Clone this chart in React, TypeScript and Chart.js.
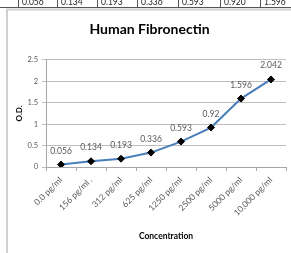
import React, { useEffect, useRef } from "react";
import { Chart, registerables } from "chart.js";

Chart.register(...registerables);

const categories = [
  "0.0 pg/ml",
  "156 pg/ml .",
  "312 pg/ml",
  "625 pg/ml",
  "1250 pg/ml",
  "2500 pg/ml",
  "5000 pg/ml",
  "10,000 pg/ml",
];
const odValues = [0.056, 0.134, 0.193, 0.336, 0.593, 0.92, 1.596, 2.042];
const valueLabels = ["0.056", "0.134", "0.193", "0.336", "0.593", "0.92", "1.596", "2.042"];
const tableValues = ["0.056", "0.134", "0.193", "0.336", "0.593", "0.920", "1.596"];
const yTicks = [0, 0.5, 1, 1.5, 2, 2.5];

const FONT = 'Lato, "Liberation Sans", sans-serif';

const framePlugin = {
  id: "frame",
  beforeDraw(chart: any) {
    const ctx = chart.ctx;
    ctx.save();
    ctx.fillStyle = "#ffffff";
    ctx.fillRect(0, 0, chart.width, chart.height);
    // cropped table strip at top
    ctx.save();
    ctx.beginPath();
    ctx.rect(0, 0, chart.width, 7);
    ctx.clip();
    ctx.font = "8.5px " + FONT;
    ctx.fillStyle = "#222";
    ctx.textAlign = "left";
    ctx.textBaseline = "alphabetic";
    const dividers = [18, 57, 97, 137, 178, 220, 260];
    tableValues.forEach((t, i) => {
      ctx.fillText(t, dividers[i] + 4, 5);
    });
    ctx.restore();
    ctx.strokeStyle = "#555";
    ctx.lineWidth = 1;
    ctx.beginPath();
    ctx.moveTo(0, 7.5);
    ctx.lineTo(chart.width, 7.5);
    [18, 57, 97, 137, 178, 220, 260].forEach((x) => {
      ctx.moveTo(x + 0.5, 0);
      ctx.lineTo(x + 0.5, 7.5);
    });
    ctx.stroke();
    // chart frame
    ctx.strokeStyle = "#d0d0d0";
    ctx.lineWidth = 2;
    ctx.beginPath();
    ctx.moveTo(7, 253);
    ctx.lineTo(7, 9.5);
    ctx.lineTo(chart.width, 9.5);
    ctx.stroke();
    ctx.restore();
  },
};

const labelPlugin = {
  id: "valueLabels",
  afterDatasetsDraw(chart: any) {
    const ctx = chart.ctx;
    const meta = chart.getDatasetMeta(0);
    ctx.save();
    ctx.font = "8.5px " + FONT;
    ctx.fillStyle = "#595959";
    ctx.textAlign = "center";
    ctx.textBaseline = "alphabetic";
    meta.data.forEach((p: any, i: number) => {
      ctx.fillText(valueLabels[i], p.x, p.y - 11);
    });
    ctx.restore();
  },
};

export default function App() {
  const ref = useRef<HTMLCanvasElement | null>(null);
  useEffect(() => {
    if (!ref.current) return;
    const chart = new Chart(ref.current, {
      type: "line",
      data: {
        labels: categories,
        datasets: [
          {
            data: odValues,
            borderColor: "#4a7ebb",
            borderWidth: 2,
            pointStyle: "rectRot",
            pointRadius: 3.5,
            pointBackgroundColor: "#000",
            pointBorderColor: "#000",
            pointBorderWidth: 1,
            tension: 0,
          },
        ],
      },
      plugins: [framePlugin, labelPlugin],
      options: {
        animation: false,
        responsive: false,
        devicePixelRatio: 1,
        layout: { padding: { left: 12, right: 4, top: 0, bottom: 0 } },
        plugins: {
          legend: { display: false },
          tooltip: { enabled: false },
          title: {
            display: true,
            text: "Human Fibronectin",
            color: "#000",
            font: { family: FONT, size: 14, weight: "bold" },
            padding: { top: 21, bottom: 22 },
          },
        },
        scales: {
          x: {
            offset: true,
            grid: {
              display: true,
              drawOnChartArea: false,
              offset: true,
              tickLength: 4,
              color: "#a6a6a6",
            },
            border: { display: true, color: "#a6a6a6" },
            ticks: {
              minRotation: 45,
              maxRotation: 45,
              autoSkip: false,
              padding: 4,
              color: "#595959",
              font: { family: FONT, size: 8.5 },
            },
            title: {
              display: true,
              text: "Concentration",
              color: "#000",
              font: { family: FONT, size: 8.5, weight: "bold" },
              padding: { top: 0, bottom: 12 },
            },
            afterFit(scale: any) {
              scale.height = 86;
            },
          },
          y: {
            min: 0,
            max: 2.5,
            grid: { color: "#bfbfbf", tickLength: 4 },
            border: { display: true, color: "#a6a6a6" },
            ticks: {
              padding: 4,
              color: "#595959",
              font: { family: FONT, size: 7.5 },
              callback: (v: any) => String(v),
            },
            afterBuildTicks(scale: any) {
              scale.ticks = yTicks.map((v) => ({ value: v }));
            },
            title: {
              display: true,
              text: "O.D.",
              color: "#000",
              font: { family: FONT, size: 8, weight: "bold" },
              padding: { top: 3, bottom: 0 },
            },
            afterFit(scale: any) {
              scale.width = 34;
            },
          },
        },
      } as any,
    });
    return () => chart.destroy();
  }, []);
  return (
    <div style={{ position: "absolute", left: 0, top: 0, width: 291, height: 253 }}>
      <canvas ref={ref} width={291} height={253} style={{ display: "block", width: 291, height: 253 }} />
    </div>
  );
}
